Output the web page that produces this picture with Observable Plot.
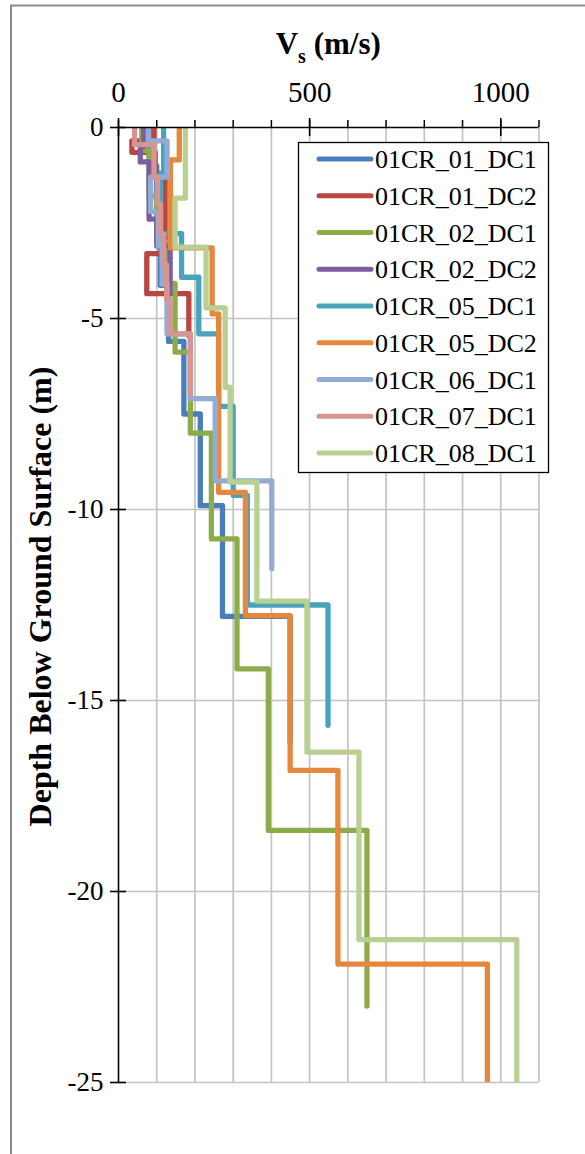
<!DOCTYPE html>
<html><head><meta charset="utf-8">
<script src="https://cdn.jsdelivr.net/npm/d3@7"></script>
<script src="https://cdn.jsdelivr.net/npm/@observablehq/plot@0.6"></script>
<style>html,body{margin:0;padding:0;background:#fff;} #chart{width:585px;height:1154px;overflow:hidden;position:relative}</style>
</head><body><div id="chart"></div>
<script>
// ---- data ----
const seriesNames = ["01CR_01_DC1","01CR_01_DC2","01CR_02_DC1","01CR_02_DC2","01CR_05_DC1","01CR_05_DC2","01CR_06_DC1","01CR_07_DC1","01CR_08_DC1"];
const seriesColors = ["#4a7ebb","#b84743","#8cac4c","#7a5ea0","#4aa3bd","#e5873d","#93acd6","#d69492","#b9d093"];

// layer boundaries (m below surface) and Vs (m/s) of each layer
const depth_01CR_01_DC1 = [0, 1.0, 2.4, 4.13, 5.6, 7.5, 9.9, 12.8, 16.1];
const vs_01CR_01_DC1    = [80, 100, 109, 131, 171, 214, 272, 449];
const depth_01CR_01_DC2 = [0, 0.35, 0.65, 1.2, 3.3, 4.35, 5.45];
const vs_01CR_01_DC2    = [93, 35, 96, 122, 74, 184];
const depth_01CR_02_DC1 = [0, 0.6, 1.8, 3.0, 4.08, 5.88, 8.0, 10.77, 14.17, 18.4, 23.0];
const vs_01CR_02_DC1    = [61, 80, 100, 128, 148, 188, 243, 310, 392, 650];
const depth_01CR_02_DC2 = [0, 0.5, 0.9, 2.4, 3.1, 4.3];
const vs_01CR_02_DC2    = [66, 57, 80, 100, 135];
const depth_01CR_05_DC1 = [0, 1.2, 2.78, 3.92, 5.4, 7.3, 9.63, 12.5, 15.65];
const vs_01CR_05_DC1    = [118, 110, 165, 210, 262, 300, 337, 548];
const depth_01CR_05_DC2 = [0, 0.85, 3.15, 4.88, 9.55, 12.78, 16.83, 21.9, 25];
const vs_01CR_05_DC2    = [159, 136, 245, 262, 332, 449, 574, 965];
const depth_01CR_06_DC1 = [0, 0.35, 1.3, 2.2, 3.1, 4.1, 5.4, 7.1, 9.25, 11.55];
const vs_01CR_06_DC1    = [78, 127, 84, 104, 114, 127, 188, 253, 401];
const depth_01CR_07_DC1 = [0, 0.45, 1.3, 2.0, 2.8, 3.6, 4.5, 5.4, 7.0];
const vs_01CR_07_DC1    = [42, 93, 102, 110, 118, 126, 135, 188];
const depth_01CR_08_DC1 = [0, 1.85, 3.13, 4.72, 6.8, 9.28, 12.4, 16.35, 21.26, 25];
const vs_01CR_08_DC1    = [175, 148, 229, 279, 292, 362, 493, 629, 1042];

const xLabelTicks = [0, 500, 1000];
const xMinorTicks = [0, 100, 200, 300, 400, 500, 600, 700, 800, 900, 1000, 1100];
const xGridLines  = [100, 200, 300, 400, 500, 600, 700, 800, 900, 1000, 1100];
const yTicks      = [0, -5, -10, -15, -20, -25];
const yGridLines  = [-5, -10, -15, -20, -25];

const profiles = [
  [depth_01CR_01_DC1, vs_01CR_01_DC1],
  [depth_01CR_01_DC2, vs_01CR_01_DC2],
  [depth_01CR_02_DC1, vs_01CR_02_DC1],
  [depth_01CR_02_DC2, vs_01CR_02_DC2],
  [depth_01CR_05_DC1, vs_01CR_05_DC1],
  [depth_01CR_05_DC2, vs_01CR_05_DC2],
  [depth_01CR_06_DC1, vs_01CR_06_DC1],
  [depth_01CR_07_DC1, vs_01CR_07_DC1],
  [depth_01CR_08_DC1, vs_01CR_08_DC1]
];

// step-profile rows
const rows = [];
profiles.forEach(([dep, vs], k) => {
  vs.forEach((v, i) => {
    rows.push({series: seriesNames[k], v, d: -dep[i]});
    rows.push({series: seriesNames[k], v, d: -dep[i + 1]});
  });
});

// ---- layout ----
const W = 585, H = 1154, ML = 118, MR = 46.5, MT = 127, MB = 72;
const pxX = (W - ML - MR) / 1100, pxY = (H - MT - MB) / 25;
const FONT = "'Liberation Serif','Times New Roman',Times,serif";

const plot = Plot.plot({
  width: W, height: H,
  marginLeft: ML, marginRight: MR, marginTop: MT, marginBottom: MB,
  x: {domain: [0, 1100], axis: null},
  y: {domain: [-25, 0], axis: null},
  color: {domain: seriesNames, range: seriesColors},
  style: {fontFamily: FONT, background: "white", color: "black", overflow: "visible"},
  marks: [
    Plot.ruleX(xGridLines, {stroke: "#c3c3c3", strokeWidth: 1.7}),
    Plot.ruleY(yGridLines, {stroke: "#c3c3c3", strokeWidth: 1.7}),
    Plot.line(rows, {x: "v", y: "d", z: "series", stroke: "series", strokeWidth: 5.3,
      strokeLinejoin: "round", strokeLinecap: "round", clip: true}),
    Plot.ruleY([0], {stroke: "black", strokeWidth: 1.6}),
    Plot.ruleX([0], {stroke: "black", strokeWidth: 1.6}),
    Plot.ruleX(xMinorTicks, {y1: 0, y2: 7 / pxY, stroke: "black", strokeWidth: 1.5}),
    Plot.ruleX(xLabelTicks, {y1: -9 / pxY, y2: 9 / pxY, stroke: "black", strokeWidth: 1.6}),
    Plot.ruleY(yTicks, {x1: -8 / pxX, x2: 8 / pxX, stroke: "black", strokeWidth: 1.6}),
    Plot.axisX({anchor: "top", ticks: xLabelTicks, tickSize: 0, tickPadding: 26,
      fontSize: 29, fontFamily: FONT, tickFormat: d => String(d), label: null}),
    Plot.axisY({anchor: "left", ticks: yTicks, tickSize: 0, tickPadding: 15,
      fontSize: 27, fontFamily: FONT, tickFormat: d => String(d), label: null})
  ]
});

const svg = d3.select(plot);

// outer frame border
svg.append("path")
  .attr("d", `M11,${H + 10} V5.5 H${W + 10}`)
  .attr("fill", "none").attr("stroke", "#8a8a8a").attr("stroke-width", 2);

// title  V_s (m/s)
const t = svg.append("text")
  .attr("x", (ML + (W - MR)) / 2).attr("y", 54)
  .attr("text-anchor", "middle").attr("font-family", FONT)
  .attr("font-weight", "bold").attr("font-size", 31).attr("fill", "black");
t.append("tspan").text("V");
t.append("tspan").attr("font-size", 20).attr("dy", 9).text("s");
t.append("tspan").attr("dy", -9).text("\u00A0(m/s)");

// y label
svg.append("text")
  .attr("transform", `translate(51,${(MT + H - MB) / 2 - 8}) rotate(-90)`)
  .attr("text-anchor", "middle").attr("font-family", FONT)
  .attr("font-weight", "bold").attr("font-size", 32).attr("fill", "black")
  .text("Depth Below Ground Surface (m)");

// legend
const lg = svg.append("g");
lg.append("rect").attr("x", 298.5).attr("y", 142.5).attr("width", 250).attr("height", 330)
  .attr("fill", "white").attr("stroke", "black").attr("stroke-width", 1.3);
seriesNames.forEach((name, i) => {
  const y = 159 + i * 36.75;
  lg.append("line").attr("x1", 319).attr("x2", 371).attr("y1", y).attr("y2", y)
    .attr("stroke", seriesColors[i]).attr("stroke-width", 5).attr("stroke-linecap", "round");
  lg.append("text").attr("x", 375).attr("y", y).attr("dy", "0.35em")
    .attr("text-anchor", "start")
    .attr("font-family", FONT).attr("font-size", 26).attr("fill", "black").text(name);
});

document.getElementById("chart").appendChild(plot);
</script>
</body></html>
